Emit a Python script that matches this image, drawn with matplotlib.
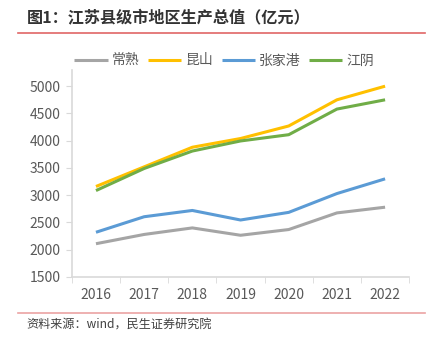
import matplotlib.pyplot as plt
import numpy as np

plt.rcParams['font.family'] = ['Noto Sans CJK SC', 'DejaVu Sans']

years = ['2016', '2017', '2018', '2019', '2020', '2021', '2022']
changshu = [2110, 2280, 2400, 2265, 2370, 2675, 2780]
kunshan = [3160, 3520, 3880, 4040, 4270, 4750, 5000]
zhangjiagang = [2320, 2605, 2720, 2545, 2685, 3030, 3300]
jiangyin = [3085, 3490, 3810, 3995, 4110, 4580, 4750]

names = ['常熟', '昆山', '张家港', '江阴']
colors = ['#A5A5A5', '#FFC000', '#5B9BD5', '#70AD47']
series = [changshu, kunshan, zhangjiagang, jiangyin]

fig = plt.figure(figsize=(4.33, 3.39), dpi=100)
ax = fig.add_axes([0.166, 0.183, 0.779, 0.611])

x = np.arange(len(years))
for vals, name, c in zip(series, names, colors):
    ax.plot(x, vals, color=c, lw=2.2, label=name, solid_capstyle='butt')

ax.set_xlim(-0.5, len(years) - 0.5)
ax.set_ylim(1500, 5300)
ax.set_yticks(np.arange(1500, 5001, 500))
ax.set_xticks(x)
ax.set_xticklabels(years)
ax.set_xticks(np.arange(-0.5, len(years)), minor=True)
ax.tick_params(axis='x', which='major', length=0, pad=8, labelsize=10, labelcolor='#595959')
ax.tick_params(axis='x', which='minor', length=4, color='#D9D9D9')
ax.tick_params(axis='y', length=4, color='#D9D9D9', labelsize=10, labelcolor='#595959', pad=4)

for s in ['top', 'right']:
    ax.spines[s].set_visible(False)
for s in ['left', 'bottom']:
    ax.spines[s].set_color('#D9D9D9')
    ax.spines[s].set_linewidth(1.2)

ax.legend(loc='lower center', bbox_to_anchor=(0.452, 0.985), ncol=4, frameon=False,
          fontsize=10, handlelength=2.4, columnspacing=0.6, handletextpad=0.3,
          labelcolor='#595959', borderaxespad=0)

fig.text(0.062, 0.945, '图1：江苏县级市地区生产总值（亿元）', fontsize=11.6, fontweight='bold',
         color='#333333', va='center')
fig.add_artist(plt.Line2D([0.042, 0.982], [0.902, 0.902], color='#E06666', lw=1.2))
fig.add_artist(plt.Line2D([0.042, 0.982], [0.077, 0.077], color='#EBA3A3', lw=1.2))
fig.text(0.062, 0.04, '资料来源：wind，民生证券研究院', fontsize=8.7, color='#404040', va='center')

fig.savefig('out.png', dpi=100)
